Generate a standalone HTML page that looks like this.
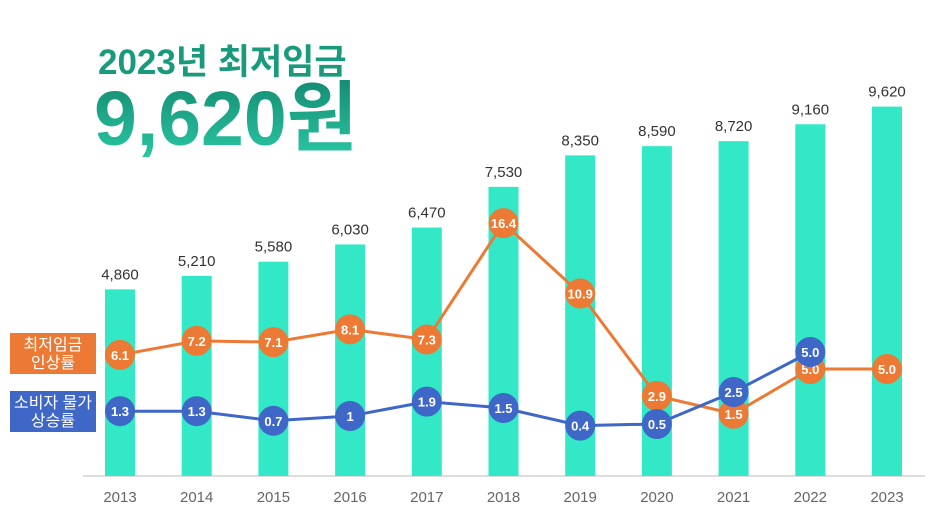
<!DOCTYPE html>
<html><head><meta charset="utf-8"><style>
body{margin:0;background:#fff;width:946px;height:513px;overflow:hidden;font-family:"Liberation Sans","Noto Sans CJK KR",sans-serif}
</style></head><body>
<svg width="946" height="513" id="c">
<defs><linearGradient id="tg" x1="0" y1="0" x2="0" y2="1"><stop offset="0" stop-color="#138a70"/><stop offset="1" stop-color="#2bc9a5"/></linearGradient></defs>
<text x="98" y="74" font-size="35" font-weight="bold" fill="#1a9a7c" font-family="Liberation Sans,Noto Sans CJK KR,sans-serif">2023년 최저임금</text>
<text x="94" y="145" font-size="77" font-weight="bold" fill="url(#tg)" font-family="Liberation Sans,Noto Sans CJK KR,sans-serif">9,620원</text>
<line x1="83" y1="476" x2="925" y2="476" stroke="#ddd" stroke-width="2"/>
<rect x="10" y="333" width="86" height="41" fill="#ec7a34"/>
<text x="53" y="350" font-size="16" fill="#fff" text-anchor="middle"><tspan x="53">최저임금</tspan><tspan x="53" dy="18">인상률</tspan></text>
<rect x="10" y="391" width="86" height="41" fill="#3f67c8"/>
<text x="53" y="408" font-size="16" fill="#fff" text-anchor="middle"><tspan x="53">소비자 물가</tspan><tspan x="53" dy="18">상승률</tspan></text>
<g id="marks"></g>
</svg>
<script>
const years=["2013","2014","2015","2016","2017","2018","2019","2020","2021","2022","2023"];
const wages=[4860,5210,5580,6030,6470,7530,8350,8590,8720,9160,9620];
const wageLabels=["4,860","5,210","5,580","6,030","6,470","7,530","8,350","8,590","8,720","9,160","9,620"];
const wageRate=[6.1,7.2,7.1,8.1,7.3,16.4,10.9,2.9,1.5,5.0,5.0];
const wageRateLabels=["6.1","7.2","7.1","8.1","7.3","16.4","10.9","2.9","1.5","5.0","5.0"];
const cpi=[1.3,1.3,0.7,1,1.9,1.5,0.4,0.5,2.5,5.0];
const cpiLabels=["1.3","1.3","0.7","1","1.9","1.5","0.4","0.5","2.5","5.0"];
const NS="http://www.w3.org/2000/svg";
const g=document.getElementById('marks');
const x=i=>120+i*76.7;
const yBar=v=>476-v*0.0384;
const yO=v=>433-v*12.8;
const yB=v=>432-v*16;
function mk(t,a){const e=document.createElementNS(NS,t);for(const k in a)e.setAttribute(k,a[k]);g.appendChild(e);return e;}
years.forEach((yr,i)=>{
  const r=mk('rect',{x:x(i)-15,y:yBar(wages[i]),width:30,height:476-yBar(wages[i]),fill:'#33e8c6'});
  
  
  const t=mk('text',{x:x(i),y:yBar(wages[i])-10,'font-size':15,fill:'#333','text-anchor':'middle'});t.textContent=wageLabels[i];
  
  
  const l=mk('text',{x:x(i),y:502,'font-size':15,fill:'#666','text-anchor':'middle'});l.textContent=yr;
  
  
});
function series(vals,labs,yf,col,name){
  const p=mk('polyline',{points:vals.map((v,i)=>x(i)+','+yf(v)).join(' '),fill:'none',stroke:col,'stroke-width':3});
  
  
  vals.forEach((v,i)=>{
    const c=mk('circle',{cx:x(i),cy:yf(v),r:15,fill:col});
    
    
    const t=mk('text',{x:x(i),y:yf(v)+5,'font-size':13,'font-weight':'bold',fill:'#fff','text-anchor':'middle'});t.textContent=labs[i];
    
    
  });
}
series(wageRate,wageRateLabels,yO,'#ec7a34','wage-rate');
series(cpi,cpiLabels,yB,'#3f67c8','cpi');
</script>
</body></html>
